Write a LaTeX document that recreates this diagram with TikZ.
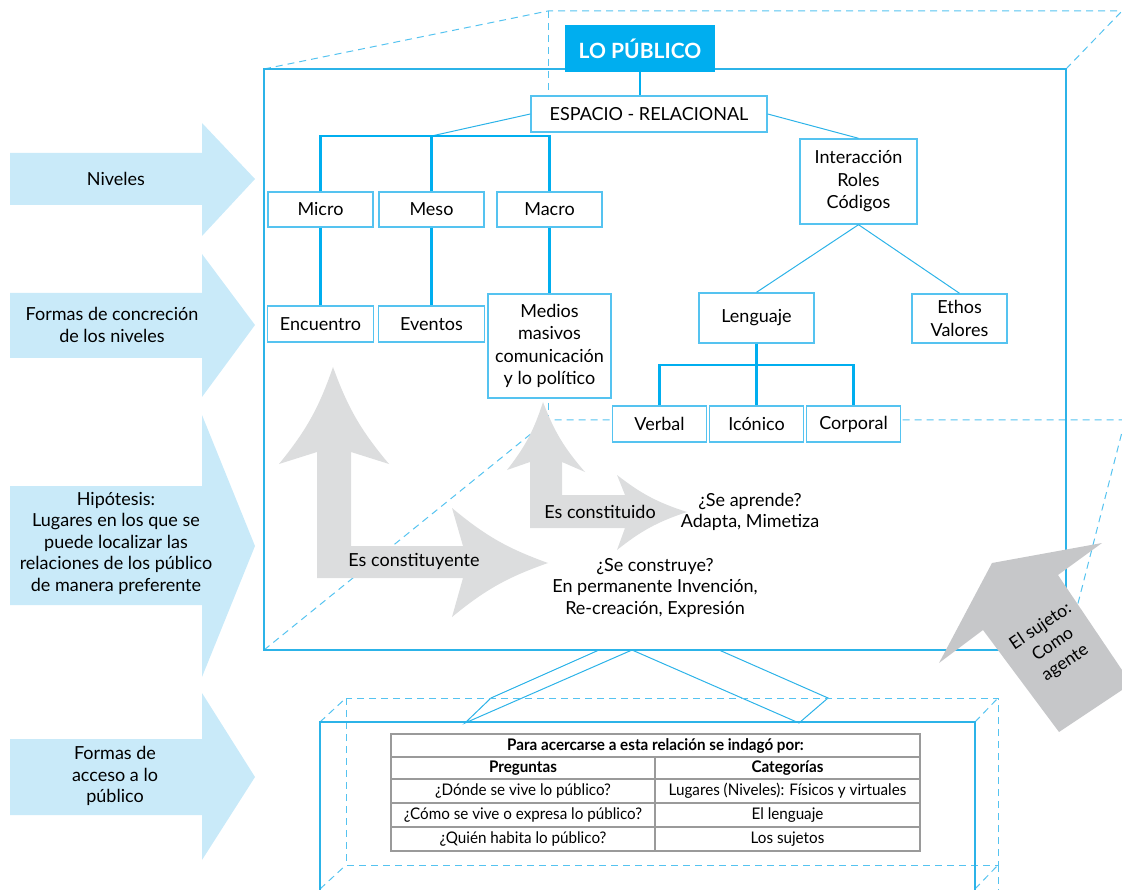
\documentclass[tikz,border=0pt]{standalone}
\usepackage{fontspec}
\setmainfont{Lato}
\newfontfamily\tablefont[FakeStretch=0.95]{Lato}
\usetikzlibrary{positioning}

\definecolor{lineblue}{HTML}{2CB3E8}
\definecolor{boxblue}{HTML}{55C3F0}
\definecolor{darkblue}{HTML}{00AEEF}
\definecolor{skyfill}{HTML}{C9EAF9}
\definecolor{greyfill}{HTML}{DCDDDE}
\definecolor{greydark}{HTML}{C6C7C9}
\definecolor{tablegrey}{HTML}{9A9A9A}

\begin{document}
\begin{tikzpicture}[x=1pt, y=-1pt,
    base/.style = {rectangle, draw=boxblue, line width=1.4pt, fill=white,
      align=center, inner sep=2pt, font=\fontsize{18}{22.5}\selectfont},
    nivbox/.style = {base, minimum width=105pt, minimum height=35pt},
    langbox/.style = {base, minimum width=94pt, minimum height=36pt},
    topbox/.style = {rectangle, fill=darkblue, text=white, minimum width=150pt,
      minimum height=47pt, font=\fontsize{21}{25}\selectfont\bfseries},
    link/.style = {draw=darkblue, line width=2.2pt},
    slim/.style = {draw=lineblue, line width=1pt},
    frame/.style = {draw=lineblue, line width=1.1pt},
    hidden/.style = {draw=boxblue, line width=1pt, dash pattern=on 7pt off 5pt},
    sidearrow/.style = {fill=skyfill},
    bigarrow/.style = {fill=greyfill},
    sidetext/.style = {align=center, inner sep=0pt, font=\fontsize{18}{21.5}\selectfont},
    tabtext/.style = {inner sep=0pt, font=\tablefont\fontsize{16}{18}\selectfont},
    tabhead/.style = {tabtext, font=\tablefont\fontsize{16}{18}\selectfont\bfseries},
    node distance=111pt
]
  \useasboundingbox (0,0) rectangle (1122,890);

  % back of the box
  \draw[hidden] (264,69) -- (548,11) -- (1122,11);
  \draw[hidden] (548,11) -- (548,96);
  \draw[hidden] (1066,69) -- (1122,11);
  \draw[hidden] (264,650) -- (548,420) -- (1122,420);
  \draw[hidden] (548,403) -- (548,420);
  \draw[hidden] (1066,650) -- (1122,432);
  \draw[frame] (264,69) rectangle (1066,650);

  % arrows on the left
  \foreach \bt/\bb/\ht/\hb/\ty in {153/205/123/236/179, 293/358/254/397/325,
      486/605/415/677/546, 739/815/693/860/777}
    \fill[sidearrow] (10,\bt) -- (202,\bt) -- (202,\ht) -- (255,\ty)
      -- (202,\hb) -- (202,\bb) -- (10,\bb) -- cycle;

  \node (niveles)   [sidetext] at (116,179) {Niveles};
  \node (formas)    [sidetext] at (112,325) {Formas de concreción\\de los niveles};
  \node (hipotesis) [sidetext] at (116,543) {Hipótesis:\\Lugares en los que se\\puede localizar las\\relaciones de los público\\de manera preferente};
  \node (acceso)    [sidetext] at (115,776) {Formas de\\acceso a lo\\público};

  % grey arrows
  \fill[bigarrow] (317,578) -- (317,452) -- (279,464) to[bend right=10] (333,367)
    to[bend right=10] (389,464) -- (351,452) -- (351,546) -- (463,546) -- (452,508)
    to[bend right=10] (548,563) to[bend right=10] (452,617) -- (463,578) -- cycle;
  \fill[bigarrow] (530,528) -- (530,462) -- (507,470) to[bend right=10] (543,402)
    to[bend right=10] (585,472) -- (562,462) -- (562,495) -- (625,495) -- (617,475)
    to[bend right=10] (687,512) to[bend right=10] (617,550) -- (625,528) -- cycle;

  \node (constituyente) [sidetext] at (414,561) {Es constituyente};
  \node (constituido)   [sidetext] at (600,512) {Es constituido};
  \node (aprende)   [sidetext] at (750,512) {¿Se aprende?\\Adapta, Mimetiza};
  \node (construye) [sidetext] at (655,588) {¿Se construye?\\En permanente Invención,\\Re-creación, Expresión};

  % tree
  \node (lopublico) [topbox] at (640,48.5) {LO PÚBLICO};
  \node (espacio) [base, minimum width=236pt, minimum height=36pt] at (649,114) {ESPACIO - RELACIONAL};
  \node (micro) [nivbox] at (320.5,209.5) {Micro};
  \node (meso)  [nivbox, right of=micro] {Meso};
  \node (macro) [nivbox, right of=meso, xshift=7pt] {Macro};
  \node (encuentro) [nivbox, below of=micro, yshift=-3.5pt, minimum width=106pt, minimum height=36pt] {Encuentro};
  \node (eventos)   [nivbox, below of=meso, yshift=-3.5pt, minimum width=106pt, minimum height=36pt] {Eventos};
  \node (medios)    [base, below of=macro, yshift=-25.5pt, minimum width=123pt, minimum height=104pt] {Medios\\masivos\\comunicación\\y lo político};

  \node (interaccion) [base, minimum width=117pt, minimum height=85pt] at (858.5,181.5) {Interacción\\Roles\\Códigos};
  \node (lenguaje) [base, minimum width=115pt, minimum height=50pt] at (756.5,318) {Lenguaje};
  \node (ethos)    [base, minimum width=95pt, minimum height=49pt] at (959.5,318.5) {Ethos\\Valores};
  \node (iconico)  [langbox, below of=lenguaje, yshift=5pt] {Icónico};
  \node (verbal)   [langbox, left of=iconico, xshift=14pt] {Verbal};
  \node (corporal) [langbox, right of=iconico, xshift=-14pt] {Corporal};

  \coordinate (nivbar) at (431.5,136);
  \coordinate (langbar) at (756.5,365);

  \draw[link] (lopublico) -- (lopublico |- espacio.north);
  \draw[slim] (espacio.west) -- (nivbar);
  \draw[link] (micro.north) |- (nivbar) -| (macro.north);
  \draw[link] (meso.north) -- (nivbar);
  \draw[link] (micro) -- (encuentro);
  \draw[link] (meso) -- (eventos);
  \draw[link] (macro) -- (medios);
  \draw[slim] (espacio.east) -- (interaccion.north);
  \draw[slim] (interaccion.south) -- (lenguaje.north);
  \draw[slim] (interaccion.south) -- (ethos.north);
  \draw[link] (lenguaje) -- (iconico);
  \draw[link] (verbal.north) |- (langbar) -| (corporal.north);

  % the subject
  \fill[greydark] (939,663) -- (992,563) -- (1102,543) -- (1058,575) -- (1122,670)
    -- (1122,690) -- (1059,732) -- (983,630) -- cycle;
  \node (sujeto) [sidetext, rotate=34, font=\fontsize{17.5}{22}\selectfont] at (1053,645) {El sujeto:\\Como\\agente};

  % lower box
  \draw[slim] (599,650) -- (491,698) -- (465,723) -- (632,650) -- (799,723) -- (828,698) -- (719,650);
  \draw[hidden] (346,698) rectangle (998,865);
  \draw[hidden] (998,865) -- (998,890);
  \draw[hidden] (320,722) -- (346,698);
  \draw[hidden] (975,722) -- (998,698);
  \draw[hidden] (320,889) -- (346,865);
  \draw[hidden] (975,889) -- (998,865);
  \draw[frame] (320,890) -- (320,722) -- (975,722) -- (975,890);

  % table
  \fill[white] (391,734) rectangle (920,851);
  \draw[tablegrey, line width=1.8pt] (391,734) rectangle (920,851);
  \foreach \ry in {757,779,803,827}
    \draw[tablegrey, line width=1.8pt] (391,\ry) -- (920,\ry);
  \draw[tablegrey, line width=1.8pt] (655,757) -- (655,851);

  \node (tabtitle)   [tabhead] at (655.5,745.5) {Para acercarse a esta relación se indagó por:};
  \node (preguntas)  [tabhead] at (523,768) {Preguntas};
  \node (categorias) [tabhead] at (787.5,768) {Categorías};
  \node (q1) [tabtext] at (523,791) {¿Dónde se vive lo público?};
  \node (c1) [tabtext] at (787.5,791) {Lugares (Niveles): Físicos y virtuales};
  \node (q2) [tabtext] at (523,815) {¿Cómo se vive o expresa lo público?};
  \node (c2) [tabtext] at (787.5,815) {El lenguaje};
  \node (q3) [tabtext] at (523,839) {¿Quién habita lo público?};
  \node (c3) [tabtext] at (787.5,839) {Los sujetos};

\end{tikzpicture}
\end{document}
